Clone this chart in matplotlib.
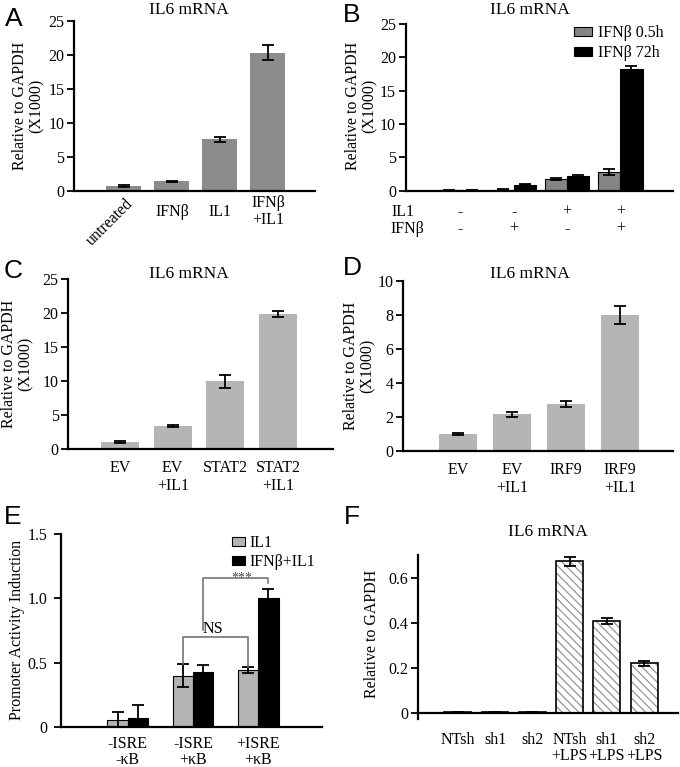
import matplotlib
matplotlib.use("Agg")
import matplotlib.pyplot as plt
import matplotlib.transforms as mtransforms
import numpy as np

plt.rcParams['font.family'] = ['Liberation Serif', 'DejaVu Serif']
plt.rcParams['hatch.linewidth'] = 0.8

W, H = 680, 767

# panel A
a_labels = ["untreated", "IFN\u03b2", "IL1", "IFN\u03b2\n+IL1"]
a_vals = [0.75, 1.4, 7.6, 20.3]
a_err = [0.12, 0.1, 0.35, 1.1]

# panel B
b_il1 = ["-", "-", "+", "+"]
b_ifn = ["-", "+", "-", "+"]
b_short = [0.05, 0.15, 1.7, 2.8]
b_short_err = [0.03, 0.05, 0.15, 0.5]
b_long = [0.1, 0.9, 2.2, 18.3]
b_long_err = [0.03, 0.05, 0.15, 0.35]

# panel C
c_labels = ["EV", "EV\n+IL1", "STAT2", "STAT2\n+IL1"]
c_vals = [1.0, 3.4, 9.95, 19.9]
c_err = [0.12, 0.15, 0.9, 0.5]

# panel D
d_labels = ["EV", "EV\n+IL1", "IRF9", "IRF9\n+IL1"]
d_vals = [1.0, 2.15, 2.75, 8.0]
d_err = [0.07, 0.15, 0.17, 0.55]

# panel E
e_labels = ["-ISRE\n-\u03baB", "-ISRE\n+\u03baB", "+ISRE\n+\u03baB"]
e_il1 = [0.055, 0.40, 0.445]
e_il1_err = [0.065, 0.09, 0.02]
e_both = [0.07, 0.43, 1.0]
e_both_err = [0.1, 0.05, 0.07]

# panel F
f_labels = ["NTsh", "sh1", "sh2", "NTsh\n+LPS", "sh1\n+LPS", "sh2\n+LPS"]
f_vals = [0.003, 0.002, 0.003, 0.675, 0.41, 0.22]
f_err = [0.0, 0.0, 0.0, 0.02, 0.012, 0.012]

fig = plt.figure(figsize=(W / 100, H / 100), dpi=100)


def px_axes(left, top, right, bottom):
    return fig.add_axes([left / W, 1 - bottom / H, (right - left) / W, (bottom - top) / H])


def fx(x):
    return x / W


def fy(y):
    return 1 - y / H


def style(ax, xlim, ylim, yticks, ytl=None):
    ax.set_xlim(*xlim)
    ax.set_ylim(*ylim)
    for s in ["top", "right"]:
        ax.spines[s].set_visible(False)
    for s in ["left", "bottom"]:
        ax.spines[s].set_linewidth(1.6)
    ax.set_yticks(yticks)
    if ytl is not None:
        ax.set_yticklabels(ytl)
    ax.tick_params(axis="y", length=5, width=1.3, labelsize=11.5, pad=2)
    ax.tick_params(axis="x", length=0, labelsize=11.5)


def letter(x, y, s):
    fig.text(fx(x), fy(y), s, fontsize=19, family="Liberation Sans", ha="center", va="center")


def title(x, y, s):
    fig.text(fx(x), fy(y), s, fontsize=12.5, ha="center", va="center")


def ylab(x, y, s):
    fig.text(fx(x), fy(y), s, fontsize=11.5, ha="center", va="center", rotation=90, linespacing=1.05)


ekw = dict(ecolor="black", capsize=4, error_kw=dict(elinewidth=1.3, capthick=1.3))

# ---- A
ax = px_axes(74, 21, 315, 191)
x = np.arange(len(a_vals))
ax.bar(x, a_vals, 0.73, color="#8c8c8c", yerr=a_err, **ekw)
style(ax, (-1.04, 3.98), (0, 25), [0, 5, 10, 15, 20, 25])
ax.set_xticks(x)
ax.set_xticklabels(a_labels, va="center", linespacing=1.1)
ax.tick_params(axis="x", pad=15)
lb = ax.get_xticklabels()[0]
lb.set_rotation(45)
lb.set_ha("right")
lb.set_rotation_mode("anchor")
lb.set_transform(lb.get_transform() + mtransforms.ScaledTranslation(0.07, 0.1, fig.dpi_scale_trans))
letter(14, 19, "A")
title(189, 10, "IL6 mRNA")
ylab(28, 106, "Relative to GAPDH\n(X1000)")

# ---- B
ax = px_axes(405.7, 24, 673, 190.7)
x = np.arange(len(b_short))
w = 0.42
ax.bar(x - w / 2, b_short, w, color="#858585", edgecolor="black", linewidth=0.8,
       yerr=b_short_err, label="IFN\u03b2 0.5h", **ekw)
ax.bar(x + w / 2, b_long, w, color="black", edgecolor="black", linewidth=0.8,
       yerr=b_long_err, label="IFN\u03b2 72h", **ekw)
style(ax, (-1.03, 3.99), (0, 25), [0, 5, 10, 15, 20, 25])
ax.set_xticks([])
ax.legend(loc="upper left", bbox_to_anchor=(fx(574), fy(25)), bbox_transform=fig.transFigure,
          frameon=False, fontsize=11.5, handlelength=1.1, handleheight=0.5,
          handletextpad=0.4, borderpad=0, borderaxespad=0, labelspacing=0.25)
tr = mtransforms.blended_transform_factory(ax.transData, fig.transFigure)
for i in range(len(b_il1)):
    ax.text(i, fy(212), b_il1[i], transform=tr, ha="center", va="center", fontsize=11.5)
    ax.text(i, fy(229), b_ifn[i], transform=tr, ha="center", va="center", fontsize=11.5)
fig.text(fx(391), fy(212), "IL1", ha="left", va="center", fontsize=11.5)
fig.text(fx(390), fy(229), "IFN\u03b2", ha="left", va="center", fontsize=11.5)
letter(352, 15, "B")
title(530, 10, "IL6 mRNA")
ylab(361, 106, "Relative to GAPDH\n(X1000)")

# ---- C
ax = px_axes(68.3, 279.3, 333, 449)
x = np.arange(len(c_vals))
ax.bar(x, c_vals, 0.72, color="#b5b5b5", yerr=c_err, **ekw)
style(ax, (-0.98, 4.04), (0, 25), [0, 5, 10, 15, 20, 25])
ax.set_xticks(x)
ax.set_xticklabels(c_labels, linespacing=1.15)
ax.tick_params(axis="x", pad=8)
letter(13, 271, "C")
title(189, 274, "IL6 mRNA")
ylab(17, 364, "Relative to GAPDH\n(X1000)")

# ---- D
ax = px_axes(403.3, 281, 673, 451)
x = np.arange(len(d_vals))
ax.bar(x, d_vals, 0.70, color="#b5b5b5", yerr=d_err, **ekw)
style(ax, (-1.02, 3.98), (0, 10), [0, 2, 4, 6, 8, 10])
ax.set_xticks(x)
ax.set_xticklabels(d_labels, linespacing=1.15)
ax.tick_params(axis="x", pad=8)
letter(352, 268, "D")
title(530, 274, "IL6 mRNA")
ylab(359, 366, "Relative to GAPDH\n(X1000)")

# ---- E
ax = px_axes(61, 534, 321.7, 727.3)
x = np.arange(len(e_il1))
w = 0.31
lo1 = np.minimum(e_il1_err, e_il1)
lo2 = np.minimum(e_both_err, e_both)
ax.bar(x - w / 2, e_il1, w, color="#b3b3b3", edgecolor="black", linewidth=0.8,
       yerr=[lo1, e_il1_err], label="IL1", **ekw)
ax.bar(x + w / 2, e_both, w, color="black", edgecolor="black", linewidth=0.8,
       yerr=[lo2, e_both_err], label="IFN\u03b2+IL1", **ekw)
style(ax, (-1.02, 2.97), (0, 1.5), [0, 0.5, 1.0, 1.5], ["0", "0.5", "1.0", "1.5"])
ax.tick_params(axis="y", pad=5)
ax.set_xticks(x)
ax.set_xticklabels(e_labels, linespacing=1.0)
ax.tick_params(axis="x", pad=6)
bc = "#6a6a6a"
# significance brackets
ax.plot([1 - w / 2, 1 - w / 2, 2 - w / 2, 2 - w / 2], [0.49, 0.70, 0.70, 0.47], color=bc, lw=1.1)
ax.text(1.31, 0.70, "NS", ha="center", va="bottom", fontsize=11.5)
ax.plot([1 + w / 2, 1 + w / 2, 2 + w / 2, 2 + w / 2], [0.755, 1.16, 1.16, 1.12], color=bc, lw=1.1)
ax.text(1.745, 1.21, "***", ha="center", va="top", fontsize=10, color="#444444")
ax.legend(loc="upper left", bbox_to_anchor=(fx(232), fy(535)), bbox_transform=fig.transFigure,
          frameon=False, fontsize=11.5, handlelength=0.8, handleheight=0.5,
          handletextpad=0.3, borderpad=0, borderaxespad=0, labelspacing=0.2)
letter(13, 517, "E")
ylab(17, 630, "Promoter Activity Induction")

# ---- F
ax = px_axes(418.3, 555, 678, 719)
x = np.arange(len(f_vals))
ax.bar(x, f_vals, 0.72, color="white", edgecolor="#8a8a8a", hatch="\\\\\\\\", linewidth=0)
ax.bar(x, f_vals, 0.72, fill=False, edgecolor="black", linewidth=1.2,
       yerr=f_err, **ekw)
style(ax, (-1.06, 5.91), (-0.028, 0.704), [0, 0.2, 0.4, 0.6], ["0", "0.2", "0.4", "0.6"])
ax.spines["bottom"].set_position(("data", 0))
ax.set_xticks(x)
ax.set_xticklabels(f_labels, linespacing=1.0)
ax.tick_params(axis="x", pad=14)
letter(352, 517, "F")
title(548, 532, "IL6 mRNA")
ylab(372, 634, "Relative to GAPDH")

fig.savefig("out.png", dpi=100)
